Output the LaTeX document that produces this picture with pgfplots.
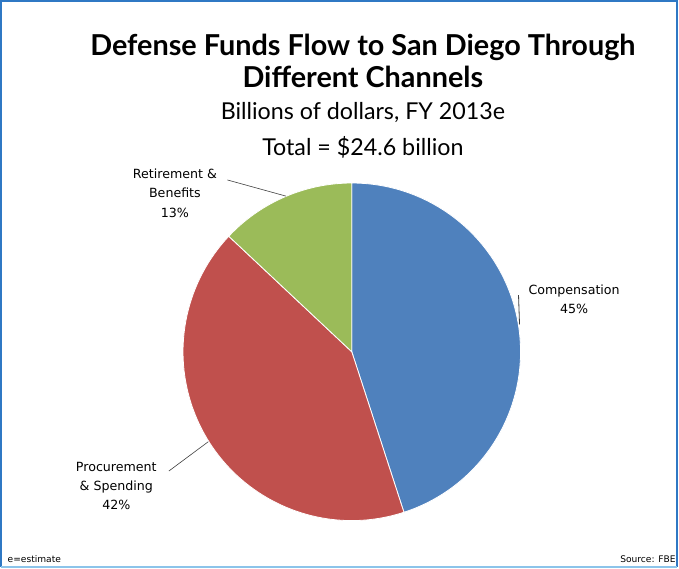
\documentclass[border=0pt]{standalone}
\usepackage{pgfplots}
\pgfplotsset{compat=1.18}
\usepackage{pgfplotstable}
\usepackage{fontspec}
\setmainfont{Lato}
\newfontfamily\labfont{DejaVu Sans}

\definecolor{pieblue}{HTML}{4F81BD}
\definecolor{piered}{HTML}{C0504D}
\definecolor{piegreen}{HTML}{9BBB59}
\definecolor{frameblue}{HTML}{2F78C4}
\definecolor{framelight}{HTML}{8CC4EA}
\definecolor{leader}{HTML}{404040}

% share of each channel, percent
\pgfplotstableread{
label value
Compensation 45
Procurement 42
Retirement 13
}\piedata

\pgfplotstablegetelem{0}{value}\of\piedata \let\vA\pgfplotsretval
\pgfplotstablegetelem{1}{value}\of\piedata \let\vB\pgfplotsretval
\pgfplotstablegetelem{2}{value}\of\piedata \let\vC\pgfplotsretval
\pgfmathsetmacro\aA{90}
\pgfmathsetmacro\aB{\aA-3.6*\vA}
\pgfmathsetmacro\aC{\aB-3.6*\vB}
\pgfmathsetmacro\aD{\aC-3.6*\vC}

\def\cx{355}
\def\cy{215}
\def\R{167}

\begin{document}
\begin{tikzpicture}
\begin{axis}[
    width=679pt, height=569pt, scale only axis,
    xmin=0, xmax=679, ymin=0, ymax=569,
    hide axis, clip=false
]
% frame
\draw[frameblue, line width=2.2pt] (axis cs:8,2) -- (axis cs:8,562) -- (axis cs:677,562) -- (axis cs:677,2);
\draw[framelight, line width=2pt] (axis cs:8,2) -- (axis cs:677,2);

% wedges
\filldraw[fill=pieblue, draw=white, line width=0.8pt]
  (axis cs:\cx,\cy) -- (axis cs:{\cx+\R*cos(\aA)},{\cy+\R*sin(\aA)})
  arc[start angle=\aA, end angle=\aB, radius=\R] -- cycle;
\filldraw[fill=piered, draw=white, line width=0.8pt]
  (axis cs:\cx,\cy) -- (axis cs:{\cx+\R*cos(\aB)},{\cy+\R*sin(\aB)})
  arc[start angle=\aB, end angle=\aC, radius=\R] -- cycle;
\filldraw[fill=piegreen, draw=white, line width=0.8pt]
  (axis cs:\cx,\cy) -- (axis cs:{\cx+\R*cos(\aC)},{\cy+\R*sin(\aC)})
  arc[start angle=\aC, end angle=\aD, radius=\R] -- cycle;

% titles
\node[font=\fontsize{28.5}{33}\selectfont\bfseries, align=center] at (axis cs:366,503)
  {Defense Funds Flow to San Diego Through\\[-1pt]Different Channels};
\node[font=\fontsize{23}{26}\selectfont] at (axis cs:366,452) {Billions of dollars, FY 2013e};
\node[font=\fontsize{23}{26}\selectfont] at (axis cs:366,417) {Total = \$24.6 billion};

% slice labels
\node[font=\labfont\fontsize{12.5}{19}\selectfont, align=center] at (axis cs:180,372)
  {Retirement \&\\Benefits\\13\%};
\draw[leader, line width=0.6pt] (axis cs:232,385) -- (axis cs:290,369);
\node[font=\labfont\fontsize{12.5}{19}\selectfont, align=center] at (axis cs:575,267)
  {Compensation\\45\%};
\draw[leader, line width=0.8pt] (axis cs:520,271) -- (axis cs:521,242);
\node[font=\labfont\fontsize{12.5}{19}\selectfont, align=center] at (axis cs:122,82)
  {Procurement\\\& Spending\\42\%};
\draw[leader, line width=0.6pt] (axis cs:174,97) -- (axis cs:213,126);

% footnotes
\node[font=\labfont\fontsize{9}{10}\selectfont, anchor=west] at (axis cs:11,10) {e=estimate};
\node[font=\labfont\fontsize{9}{10}\selectfont, anchor=east] at (axis cs:679,10) {Source: FBE};
\end{axis}
\end{tikzpicture}
\end{document}
